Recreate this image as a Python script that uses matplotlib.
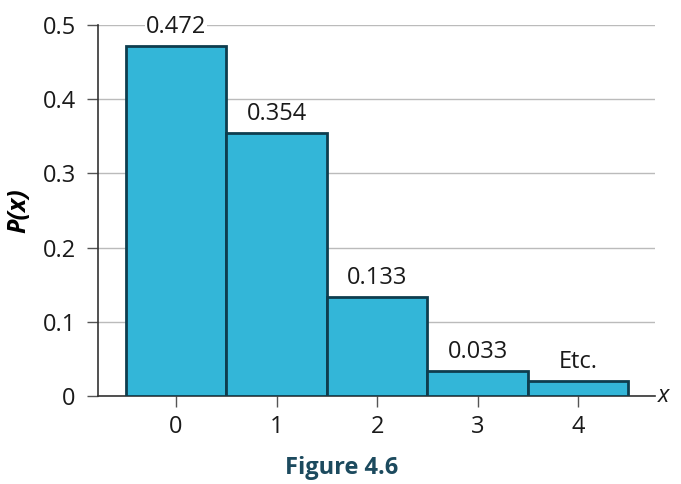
import matplotlib.pyplot as plt

x_values = [0, 1, 2, 3, 4]
probs = [0.472, 0.354, 0.133, 0.033, 0.020]
bar_labels = ["0.472", "0.354", "0.133", "0.033", "Etc."]
y_ticks = [0, 0.1, 0.2, 0.3, 0.4, 0.5]
y_tick_labels = ["0", "0.1", "0.2", "0.3", "0.4", "0.5"]

plt.rcParams['font.family'] = ['Open Sans', 'DejaVu Sans']

fig = plt.figure(figsize=(6.81, 4.84), dpi=100)
ax = fig.add_axes([0.144, 0.182, 0.818, 0.766])

ax.bar(x_values, probs, width=1.0, color='#33b6d8', edgecolor='#0e3d4e',
       linewidth=2, zorder=3)

for xv, p, lab in zip(x_values, probs, bar_labels):
    ax.text(xv, p + 0.01, lab, ha='center', va='bottom', fontsize=17,
            color='#1a1a1a', zorder=4,
            bbox=dict(facecolor='white', edgecolor='none', pad=0.5))

ax.set_xlim(-0.776, 4.766)
ax.set_ylim(0, 0.5)
ax.set_xticks(x_values)
ax.set_xticklabels([str(v) for v in x_values])
ax.set_yticks(y_ticks)
ax.set_yticklabels(y_tick_labels)
ax.tick_params(axis='both', labelsize=17, length=8, width=1, color='#555555',
               labelcolor='#1a1a1a')
ax.tick_params(axis='y', pad=8)
ax.tick_params(axis='x', pad=6)

ax.grid(axis='y', color='#bbbbbb', linewidth=1, zorder=0)
ax.set_axisbelow(True)
for side in ['top', 'right']:
    ax.spines[side].set_visible(False)
for side in ['left', 'bottom']:
    ax.spines[side].set_color('#333333')
    ax.spines[side].set_linewidth(1.2)

ax.set_ylabel('P(x)', fontsize=18, fontweight='bold', fontstyle='italic',
              labelpad=8)
ax.text(1.005, 0.0, 'x', transform=ax.transAxes, ha='left', va='center',
        fontsize=17, fontstyle='italic', color='#1a1a1a')

fig.text(0.501, 0.033, 'Figure 4.6', ha='center', va='center', fontsize=17,
         fontweight='bold', color='#1c4a5e')

fig.savefig('out.png', dpi=100)
